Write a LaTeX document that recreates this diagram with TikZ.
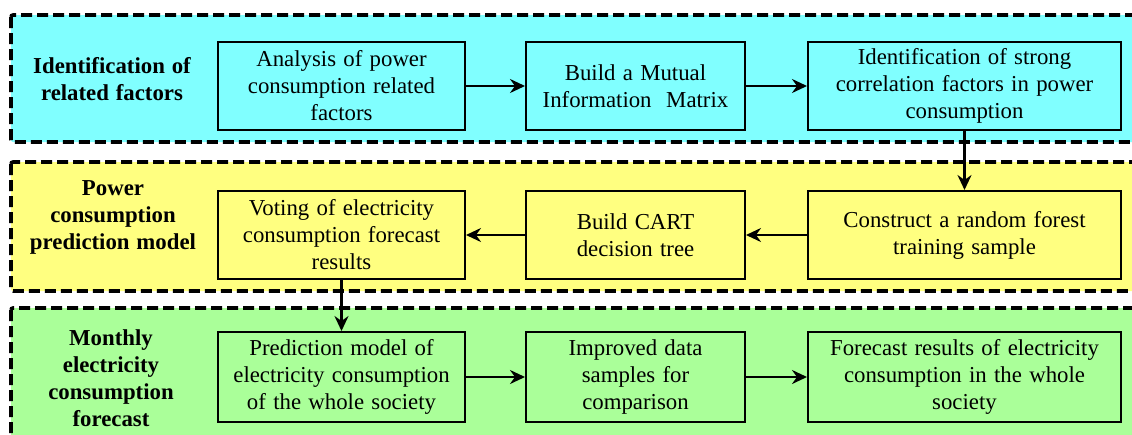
\documentclass[tikz,border=0pt]{standalone}
\usepackage{fontspec}
\setmainfont{Liberation Serif}
\usetikzlibrary{arrows.meta}
\definecolor{cyanband}{RGB}{128,255,255}
\definecolor{yellowband}{RGB}{255,255,128}
\definecolor{greenband}{RGB}{170,255,153}
\newcommand{\myboxfont}{\fontsize{22.8}{27}\selectfont\spaceskip=0.32em\relax}
\newcommand{\mylblfont}{\bfseries\fontsize{22.8}{27}\selectfont\spaceskip=0.3em\relax}
\begin{document}
\begin{tikzpicture}[x=1pt,y=-1pt,
  band/.style={draw=black, line width=3.6pt, dash pattern=on 11pt off 5pt, rounded corners=2pt},
  stepbox/.style={draw=black, line width=2pt, align=center, inner sep=0pt,
    minimum height=88pt, font=\myboxfont},
  lbl/.style={align=center, font=\mylblfont},
  arr/.style={line width=2.7pt, -{Stealth[length=15pt,width=14pt,inset=5pt]}}]
\clip (0,0) rectangle (1132,434);
\useasboundingbox (0,0) rectangle (1132,434);
% bands
\path[band, fill=cyanband] (11,15) rectangle (1145,142);
\path[band, fill=yellowband] (11,162) rectangle (1145,291);
\path[band, fill=greenband] (11,308) rectangle (1145,450);
% labels
\node[lbl] (L1) at (112,79) {Identification of\\related factors};
\node[lbl] (L2) at (113,217) {Power\\consumption\\prediction model};
\node[lbl] (L3) at (111,378) {Monthly\\electricity\\consumption\\forecast};
% row 1
\node[stepbox, fill=cyanband, minimum width=247pt] (a1) at (341.5,86) {Analysis of power\\consumption related\\factors};
\node[stepbox, fill=cyanband, minimum width=219pt] (a2) at (635.5,86) {Build a Mutual\\Information~ Matrix};
\node[stepbox, fill=cyanband, minimum width=313pt] (a3) at (964.5,86) {Identification of strong\\correlation factors in power\\consumption};
% row 2
\node[stepbox, fill=yellowband, minimum width=247pt] (b1) at (341.5,235) {Voting of electricity\\consumption forecast\\results};
\node[stepbox, fill=yellowband, minimum width=219pt] (b2) at (635.5,235) {Build CART\\decision tree};
\node[stepbox, fill=yellowband, minimum width=313pt] (b3) at (964.5,235) {Construct a random forest\\training sample};
% row 3
\node[stepbox, fill=greenband, minimum width=247pt, minimum height=90pt] (c1) at (341.5,377) {Prediction model of\\electricity consumption\\of the whole society};
\node[stepbox, fill=greenband, minimum width=219pt, minimum height=90pt] (c2) at (635.5,377) {Improved data\\samples for\\comparison};
\node[stepbox, fill=greenband, minimum width=313pt, minimum height=90pt] (c3) at (964.5,377) {Forecast results of electricity\\consumption in the whole\\society};
% arrows
\draw[arr] (a1) -- (a2);
\draw[arr] (a2) -- (a3);
\draw[arr] (a3) -- (b3);
\draw[arr] (b3) -- (b2);
\draw[arr] (b2) -- (b1);
\draw[arr] (b1) -- (c1);
\draw[arr] (c1) -- (c2);
\draw[arr] (c2) -- (c3);
\end{tikzpicture}
\end{document}
